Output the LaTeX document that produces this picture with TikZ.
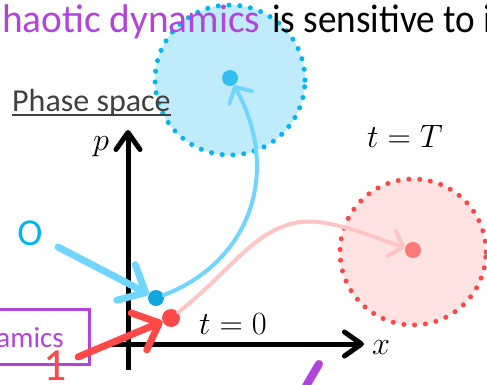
\documentclass[tikz,border=0pt]{standalone}
\usepackage{graphicx}
\usepackage{fontspec}
\setmainfont{Carlito}
\usetikzlibrary{arrows.meta}
\definecolor{ttlpurple}{HTML}{B044DB}
\definecolor{blueedge}{HTML}{00B4F5}
\definecolor{bluefill}{HTML}{BFEBFB}
\definecolor{bluedot}{HTML}{33C0F0}
\definecolor{bluestart}{HTML}{12A6E0}
\definecolor{bluelight}{HTML}{70D6FF}
\definecolor{rededge}{HTML}{FF4545}
\definecolor{redfill}{HTML}{FFE3E3}
\definecolor{reddot}{HTML}{FF7878}
\definecolor{redstart}{HTML}{FF4848}
\definecolor{pinkline}{HTML}{FFC4C4}
\definecolor{graytxt}{HTML}{404040}
\tikzset{
  dottedring/.style={circle, inner sep=0pt, line width=5pt, line cap=round, dash pattern=on 0pt off 10.8pt},
  dotnode/.style={circle, inner sep=0pt, minimum size=#1},
  axisline/.style={line width=5pt, -{Straight Barb[length=17pt,width=24pt,round]}},
  thinarrow/.style={line width=4pt, -{Straight Barb[length=12pt,width=26pt,round]}, line cap=round},
  thickarrow/.style={line width=7pt, -{Straight Barb[length=22pt,width=40pt,round]}, line cap=round},
  mathlbl/.style={inner sep=0pt, font=\fontsize{24.88}{28}\selectfont},
  ttlfont/.style={inner sep=0pt, anchor=base west, font=\fontsize{40}{44}\selectfont},
}
\begin{document}
\begin{tikzpicture}[x=1pt,y=-1pt]
\useasboundingbox (0,0) rectangle (487,384);
\clip (0,0) rectangle (487,384);
% circles
\node[dottedring, minimum size=150pt, fill=bluefill, draw=blueedge] (cb) at (230,80) {};
\node[dottedring, minimum size=146pt, fill=redfill, draw=rededge] (cr) at (413,252) {};
% title
\node[ttlfont, text=ttlpurple] (ttl) at (2,32) {\resizebox{258pt}{\height}{haotic dynamics}};
\node[ttlfont] (ttl2) at (272,32) {\resizebox{220pt}{\height}{is sensitive to i}};
% phase space
\node[anchor=base west, inner sep=0pt, font=\fontsize{32}{36}\selectfont, text=graytxt] (ps) at (12,111) {Phase space};
\draw[graytxt, line width=1.5pt] ([yshift=-4pt]ps.base west) coordinate (u1) -- ([yshift=-4pt]ps.base east) coordinate (u2);
% axes
\coordinate (xo) at (110,344);
\coordinate (xe) at (364,344);
\coordinate (yo) at (128,370);
\coordinate (ye) at (128,130);
\draw[axisline] (xo) -- (xe);
\draw[axisline] (yo) -- (ye);
\node[mathlbl] (xl) at (381,348) {\scalebox{1.3}{$x$}};
\node[mathlbl] (pl) at (101,147) {\scalebox{1.3}{$p$}};
\node[mathlbl, anchor=base west] (t0) at (199,334) {\scalebox{1.3}{$t=0$}};
\node[mathlbl, anchor=base west] (tT) at (367,147) {\scalebox{1.3}{$t=T$}};
% dots
\node[dotnode=16pt, fill=bluedot] (db) at (230,78) {};
\node[dotnode=16pt, fill=reddot] (dr) at (413,250) {};
\node[dotnode=16pt, fill=bluestart] (sb) at (156,298) {};
\node[dotnode=18pt, fill=redstart] (sr) at (171,318) {};
% trajectories
\draw[thinarrow, pinkline] (sr) .. controls (235,268) and (262,216) .. (318,222) .. controls (350,226) and (375,238) .. (dr);
\draw[thinarrow, bluelight] (sb) .. controls (250,262) and (282,172) .. (db);
% purple box
\node[draw=ttlpurple, line width=3pt, anchor=north east, minimum width=120pt, minimum height=55pt, inner sep=0pt] (box) at (91,308) {};
\node[anchor=base east, inner sep=0pt, font=\fontsize{29}{32}\selectfont, text=ttlpurple] (boxt) at (64,347) {amics};
% labels and arrows
\node[inner sep=0pt, font=\fontsize{38}{40}\selectfont, text=blueedge] (lo) at (30,233) {O};
\node[anchor=base, inner sep=0pt, font=\fontsize{46}{48}\selectfont, text=redstart] (l1) at (55,380) {1};
\coordinate (ob) at (58,247);
\coordinate (or) at (78,357);
\draw[thickarrow, bluelight] (ob) -- (sb);
\draw[thickarrow, redstart] (or) -- (sr);
% purple stroke at bottom
\coordinate (pa) at (306,386);
\coordinate (pb) at (319,364);
\draw[ttlpurple, line width=8pt, line cap=round] (pa) -- (pb);
\end{tikzpicture}
\end{document}
